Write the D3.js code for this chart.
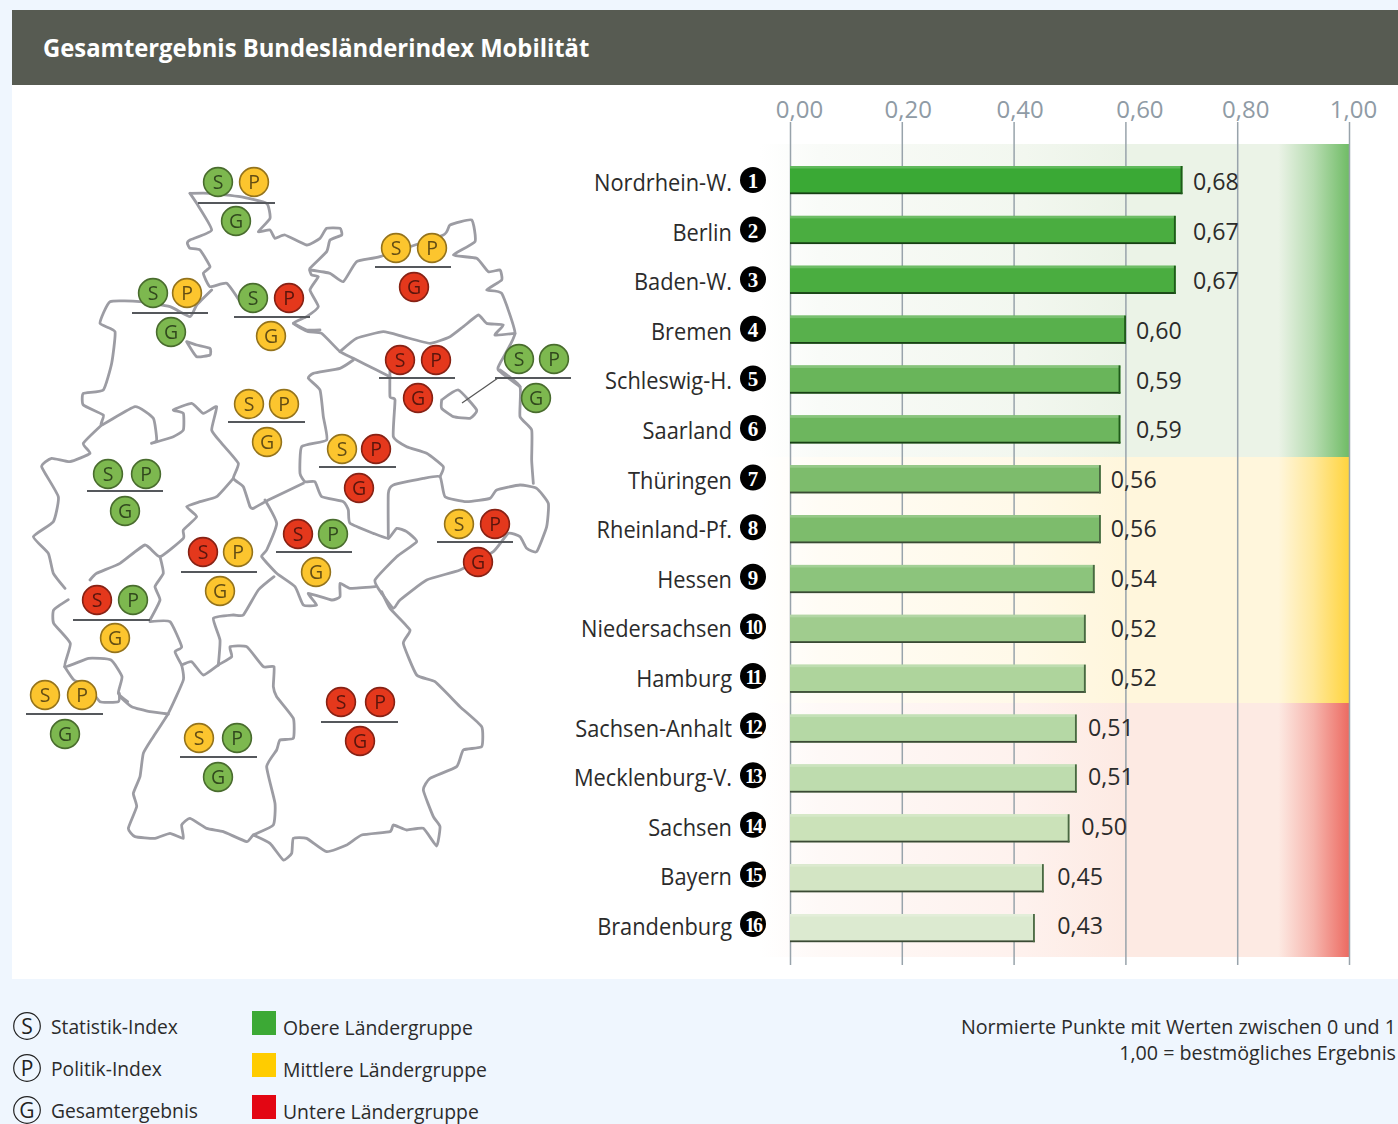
<!DOCTYPE html>
<html lang="de"><head><meta charset="utf-8">
<script src="https://cdn.jsdelivr.net/npm/d3@7"></script>
<style>html,body{margin:0;padding:0;background:#eff6fe}svg{display:block}text{font-family:"Open Sans","Noto Sans",sans-serif}</style>
</head><body><div id="c"></div>
<script>
// ---------- data ----------
const states = ["Nordrhein-W.","Berlin","Baden-W.","Bremen","Schleswig-H.","Saarland","Thüringen","Rheinland-Pf.","Hessen","Niedersachsen","Hamburg","Sachsen-Anhalt","Mecklenburg-V.","Sachsen","Bayern","Brandenburg"];
const printedValues = ["0,68","0,67","0,67","0,60","0,59","0,59","0,56","0,56","0,54","0,52","0,52","0,51","0,51","0,50","0,45","0,43"];
const barValues = [0.702,0.690,0.690,0.601,0.591,0.591,0.556,0.556,0.545,0.529,0.529,0.513,0.513,0.500,0.454,0.438];
const labelColumns = [0.721,0.721,0.721,0.619,0.619,0.619,0.574,0.574,0.574,0.574,0.574,0.533,0.533,0.521,0.478,0.478];
const barColors = ["#3aa935","#4aad40","#4aad40","#58b04c","#69b55a","#6db65e","#7dbc6c","#7dbc6c","#8cc47c","#a0cc8e","#aed49c","#b5d8a5","#bedcae","#cbe2b9","#d3e5c4","#dcead0"];
const axisTicks = [0,0.2,0.4,0.6,0.8,1];
const axisTickNudges = [9,6,6,14,8,4];
const bands = [{key:"g",from:0,to:6,tint:"#ebf3e7",end:"#70bc66"},{key:"y",from:6,to:11,tint:"#fff6dc",end:"#ffd43e"},{key:"r",from:11,to:16,tint:"#fdeae3",end:"#ec6b62"}];

const mapStatus = {
  SH:["g","y","g"],NI:["g","y","g"],HH:["g","r","y"],MV:["y","y","r"],BB:["r","r","r"],BE:["g","g","g"],
  NS2:["y","y","y"],ST:["y","r","r"],NW:["g","g","g"],SN:["y","r","r"],TH:["r","g","y"],HE:["r","y","y"],
  RP:["r","g","y"],SL:["y","y","g"],BW:["y","g","g"],BY:["r","r","r"]};
const badgeLayout = {SH:[218,254,182,203,198,275,236,221],NI:[153,187,293,313,132,208,171,332],HH:[253,289,298,317,234,310,271,336],
  MV:[396,432,248,267,375,451,414,287],BB:[400,436,360,378,379,455,418,398],BE:[519,554,359,378,495,571,536,398],
  NS2:[249,284,404,422,228,305,267,442],ST:[342,376,449,467,319,396,359,488],NW:[108,146,474,491,87,163,125,511],
  SN:[459,495,524,542,437,513,478,562],TH:[298,333,534,552,276,352,316,572],HE:[203,238,552,572,181,257,220,591],
  RP:[97,133,600,620,73,150,115,638],SL:[45,82,695,714,26,103,65,734],BW:[199,237,738,757,180,257,218,777],BY:[341,380,702,722,321,398,360,741]};
const badgeColors = {g:"#7db84f",y:"#fcc52f",r:"#e4371f"};

// map outlines, sheet by sheet (origin in the page, then 3x sheet units)
const traces = [
 {o:[190,160],lines:[
  [[0,100],[60,100],[150,110],[230,130],[240,175],[205,215],[240,210],[255,235],[285,225],[350,255],[390,235],[410,205],[450,205],[455,225],[420,240],[410,275],[360,325],[365,345],[385,350],[360,390],[385,440],[350,470],[310,490],[355,515],[395,520],[450,575],[490,595],[560,630],[600,650]],
  [[0,100],[20,130],[65,210],[0,240],[-8,250],[0,265],[30,270],[60,320],[40,340],[60,380],[110,370],[150,425]],
  [[450,575],[500,535],[580,515],[640,530],[720,550],[780,530],[820,500],[865,465],[890,490],[940,495],[915,525],[975,520]],
  [[360,330],[420,340],[460,365],[500,305],[570,290],[760,225],[780,195],[845,180],[855,245],[790,285],[860,295],[895,335],[930,330],[935,360],[890,390],[935,400],[975,520],[930,610],[925,630],[990,680]]
 ]},
 {o:[120,590],lines:[
  [[185,225],[190,270],[145,370],[100,440],[70,490],[60,560],[40,610],[50,650],[25,715],[45,740],[105,745],[150,730],[190,745],[185,705],[210,685],[260,715],[310,725],[380,755],[400,735],[460,705],[465,640],[440,530],[470,480],[480,450],[520,445],[520,385],[470,320],[460,290],[462,230],[430,230],[380,170],[330,170],[335,200],[295,225],[250,255],[215,215],[185,225]],
  [[400,735],[450,760],[490,810],[515,790],[520,745],[560,745],[620,785],[680,765],[725,735],[810,725],[820,705],[860,720],[910,715],[950,768],[960,710],[940,680],[910,600],[930,565],[1010,530],[1030,480],[1085,470],[1085,410],[1020,350],[945,275],[890,255],[850,160],[870,120],[810,55],[785,5]],
  [[295,225],[300,150],[280,85],[340,75],[370,75],[415,0],[462,-40]],
  [[90,95],[150,95],[185,170],[165,185],[185,225]],
  [[0,320],[35,350],[90,365],[145,372]]
 ]},
 {o:[20,290],lines:[
  [[575,0],[530,45],[510,80],[450,50],[360,35],[270,35],[240,100],[285,125],[275,220],[250,300],[190,310],[190,345],[250,375],[245,405],[345,350],[400,385],[410,450],[395,460],[460,440],[490,420],[490,370],[460,360],[515,340],[550,370],[590,350],[575,420],[605,460],[655,520],[640,565],[670,590],[690,650],[700,655],[745,630],[850,580]],
  [[245,405],[190,460],[210,490],[150,515],[95,505],[65,530],[115,620],[100,695],[40,740],[85,790],[100,850],[135,895]],
  [[640,565],[590,620],[540,635],[500,650],[530,680],[490,720],[490,745],[420,800],[375,765],[300,820],[230,850],[210,870]],
  [[420,800],[430,850],[405,890],[420,930],[390,990]],
  [[500,155],[530,200],[570,195],[570,175],[530,165],[500,155]],
  [[820,100],[860,120],[900,120]]
 ]},
 {o:[260,360],lines:[
  [[280,0],[240,25],[160,40],[145,55],[180,90],[190,170],[200,240],[125,260],[120,340],[135,365],[165,365],[185,410],[250,425],[265,450],[270,490],[340,520],[385,535],[410,505],[440,515],[470,545],[410,590],[345,660],[365,700]],
  [[15,420],[50,490],[20,570],[5,590],[50,640],[105,680],[130,735],[170,735],[145,700],[215,720],[240,710],[240,670],[270,685],[345,680]],
  [[385,535],[385,400],[400,375],[490,355],[540,350],[555,410],[620,425],[690,415],[710,390],[780,375],[830,385],[865,430],[860,500],[830,575],[800,565],[780,530],[745,520],[700,575],[600,630],[500,660],[420,720],[400,745],[365,700]],
  [[390,20],[390,110],[405,120],[400,230],[440,260],[500,280],[550,320],[540,350]],
  [[720,30],[780,80],[780,170],[815,210],[815,300],[820,370]],
  [[545,120],[595,90],[650,150],[630,175],[580,170],[545,145],[545,120]]
 ]},
 {o:[0,520],lines:[
  [[205,239],[161,270],[161,310],[211,370],[194,440],[266,415],[333,420],[366,470],[355,520],[383,545]],
  [[194,440],[222,480],[266,500],[300,545],[355,545],[358,520]]
 ]}
];
const legendIndex = [["S","Statistik-Index"],["P","Politik-Index"],["G","Gesamtergebnis"]];
const legendGroups = [["#3ca935","Obere Ländergruppe"],["#ffcc00","Mittlere Ländergruppe"],["#e30613","Untere Ländergruppe"]];
const noteLines = ["Normierte Punkte mit Werten zwischen 0 und 1","1,00 = bestmögliches Ergebnis"];
const title = "Gesamtergebnis Bundesländerindex Mobilität";

// ---------- drawing ----------
const W=1398,H=1124;
const svg=d3.select("#c").append("svg").attr("width",W).attr("height",H);
const defs=svg.append("defs");
defs.append("filter").attr("id","soft").append("feGaussianBlur").attr("stdDeviation",0.6);
const condense=(sel,f)=>sel.each(function(){const t=this;t.setAttribute("textLength",t.getComputedTextLength()*f);t.setAttribute("lengthAdjust","spacingAndGlyphs");});

svg.append("rect").attr("width",W).attr("height",H).attr("fill","#eff6fe");
svg.append("rect").attr("x",12).attr("y",85).attr("width",W-12).attr("height",894).attr("fill","#fff");
svg.append("rect").attr("x",12).attr("y",10).attr("width",W-12).attr("height",75).attr("fill","#575b52");
svg.append("text").attr("x",43).attr("y",57).attr("fill","#fff").attr("font-size",24.3).attr("font-weight",700).text(title).call(condense,0.98);

const x=d3.scaleLinear().domain([0,1]).range([790,1349]);
const barRow=d3.scalePoint().domain(d3.range(16)).range([180,928]);
const labelRow=d3.scalePoint().domain(d3.range(16)).range([180,924]);
const bandTop=i=>i===0?144:i===6?457:i===11?703:957;

bands.forEach(b=>{
  const g=defs.append("linearGradient").attr("id","bg"+b.key).attr("gradientUnits","userSpaceOnUse")
    .attr("x1",760).attr("x2",1349).attr("y1",0).attr("y2",0);
  [[0,"#fff"],[0.1,d3.interpolateRgb("#fff",b.tint)(0.3)],[0.45,d3.interpolateRgb("#fff",b.tint)(0.65)],[0.62,b.tint],[0.88,b.tint],[0.94,d3.interpolateRgb(b.tint,b.end)(0.42)],[1,b.end]]
    .forEach(s=>g.append("stop").attr("offset",s[0]).attr("stop-color",s[1]));
  svg.append("rect").attr("x",760).attr("width",589).attr("y",bandTop(b.from)).attr("height",bandTop(b.to)-bandTop(b.from)).attr("fill",`url(#bg${b.key})`);
});

const axis=d3.axisTop(x).tickValues(axisTicks).tickFormat(d=>d3.format(".2f")(d).replace(".",",")).tickSize(0).tickPadding(0);
const ag=svg.append("g").attr("transform","translate(0,122)").call(axis);
ag.select(".domain").remove();
ag.selectAll(".tick line").attr("y1",0).attr("y2",843).attr("stroke","#98a3ab").attr("stroke-width",1.5);
ag.selectAll(".tick text").attr("fill","#8f9ba5").attr("font-size",24).attr("font-family",'"Open Sans","Noto Sans",sans-serif').attr("y",-4).attr("dx",(d,i)=>axisTickNudges[i]);

const barH=28;
const bars=svg.selectAll(".bar").data(states).join("g").attr("class","bar").attr("transform",(d,i)=>`translate(0,${barRow(i)})`);
const w=(d,i)=>x(barValues[i])-x(0);
bars.append("rect").attr("x",x(0)).attr("y",-14).attr("width",w).attr("height",barH).attr("fill",(d,i)=>barColors[i]);
bars.append("rect").attr("x",x(0)).attr("y",-14).attr("width",w).attr("height",2.5).attr("fill",(d,i)=>d3.interpolateRgb(barColors[i],"#fff")(0.2));
bars.append("rect").attr("x",x(0)).attr("y",12.4).attr("width",w).attr("height",1.8).attr("fill",(d,i)=>i<6?"#173f14":"#3a4a34");
bars.append("rect").attr("x",(d,i)=>x(barValues[i])-1.8).attr("y",-14).attr("width",1.8).attr("height",barH+.2).attr("fill",(d,i)=>i<6?"#1f5a1a":"#4a6842");

const row=svg.selectAll(".row").data(states).join("g").attr("class","row").attr("transform",(d,i)=>`translate(0,${labelRow(i)})`);
row.append("text").attr("x",(d,i)=>x(labelColumns[i])).attr("y",10.2).attr("font-size",23.2).attr("fill","#2b2b2b").text((d,i)=>printedValues[i]);
row.append("text").attr("x",732).attr("y",10.9).attr("text-anchor","end").attr("font-size",23.2).attr("fill","#2b2b2b").text(d=>d).call(condense,0.94);
row.append("circle").attr("cx",753).attr("cy",0).attr("r",13).attr("fill","#000");
row.append("text").attr("x",753).attr("y",8).attr("text-anchor","middle").attr("fill","#fff").attr("font-weight",700)
  .attr("font-size",(d,i)=>i<9?21:20).style("font-family",'"Liberation Serif",serif').attr("letter-spacing",(d,i)=>i<9?0:-2).text((d,i)=>i+1);

// map
const mapG=svg.append("g").attr("filter","url(#soft)");
const mapLine=d3.line().curve(d3.curveCardinal.tension(0.55));
traces.forEach(tr=>{
  const sx=d3.scaleLinear().domain([0,3]).range([tr.o[0],tr.o[0]+1]);
  const sy=d3.scaleLinear().domain([0,3]).range([tr.o[1],tr.o[1]+1]);
  mapG.append("g").selectAll("path").data(tr.lines).join("path")
    .attr("d",l=>mapLine(l.map(p=>[sx(p[0]),sy(p[1])]))).attr("fill","none")
    .attr("stroke","#9c9ca3").attr("stroke-width",2.8).attr("stroke-linejoin","round").attr("stroke-linecap","round");
});
mapG.append("line").attr("x1",462).attr("y1",403).attr("x2",498).attr("y2",378).attr("stroke","#555").attr("stroke-width",1.2);

Object.keys(badgeLayout).forEach(k=>{
  const [sx,px,y,ly,lx1,lx2,gx,gy]=badgeLayout[k], st=mapStatus[k];
  mapG.append("line").attr("x1",lx1).attr("x2",lx2).attr("y1",ly).attr("y2",ly).attr("stroke","#55585c").attr("stroke-width",2);
  [[sx,y,"S",st[0]],[px,y,"P",st[1]],[gx,gy,"G",st[2]]].forEach(c=>{
    const col=badgeColors[c[3]];
    mapG.append("circle").attr("cx",c[0]).attr("cy",c[1]).attr("r",14.4).attr("fill",col).attr("stroke",d3.color(col).darker(1.5)).attr("stroke-width",1.6);
    mapG.append("text").attr("x",c[0]).attr("y",c[1]+7).attr("text-anchor","middle").attr("font-size",19.5).attr("fill",d3.color(col).darker(2.6)).text(c[2]);
  });
});

// legend
const lg=svg.selectAll(".li").data(legendIndex).join("g").attr("class","li").attr("transform",(d,i)=>`translate(0,${[1026,1068,1110][i]})`);
lg.append("circle").attr("cx",27).attr("r",13.3).attr("fill","none").attr("stroke","#222").attr("stroke-width",1.2);
lg.append("text").attr("x",27).attr("y",7.5).attr("text-anchor","middle").attr("font-size",21).attr("fill","#222").text(d=>d[0]);
lg.append("text").attr("x",51).attr("y",8).attr("font-size",20.6).attr("fill","#2b2b2b").text(d=>d[1]).call(condense,0.935);
const lc=svg.selectAll(".lc").data(legendGroups).join("g").attr("class","lc").attr("transform",(d,i)=>`translate(0,${[1011,1053,1095][i]})`);
lc.append("rect").attr("x",252).attr("width",24).attr("height",24).attr("fill",d=>d[0]);
lc.append("text").attr("x",283).attr("y",24).attr("font-size",20.6).attr("fill","#2b2b2b").text(d=>d[1]).call(condense,0.94);
svg.selectAll(".note").data(noteLines).join("text").attr("class","note").attr("x",1396).attr("y",(d,i)=>1034+i*26)
  .attr("text-anchor","end").attr("font-size",19.7).attr("fill","#2b2b2b").text(d=>d);
</script></body></html>
